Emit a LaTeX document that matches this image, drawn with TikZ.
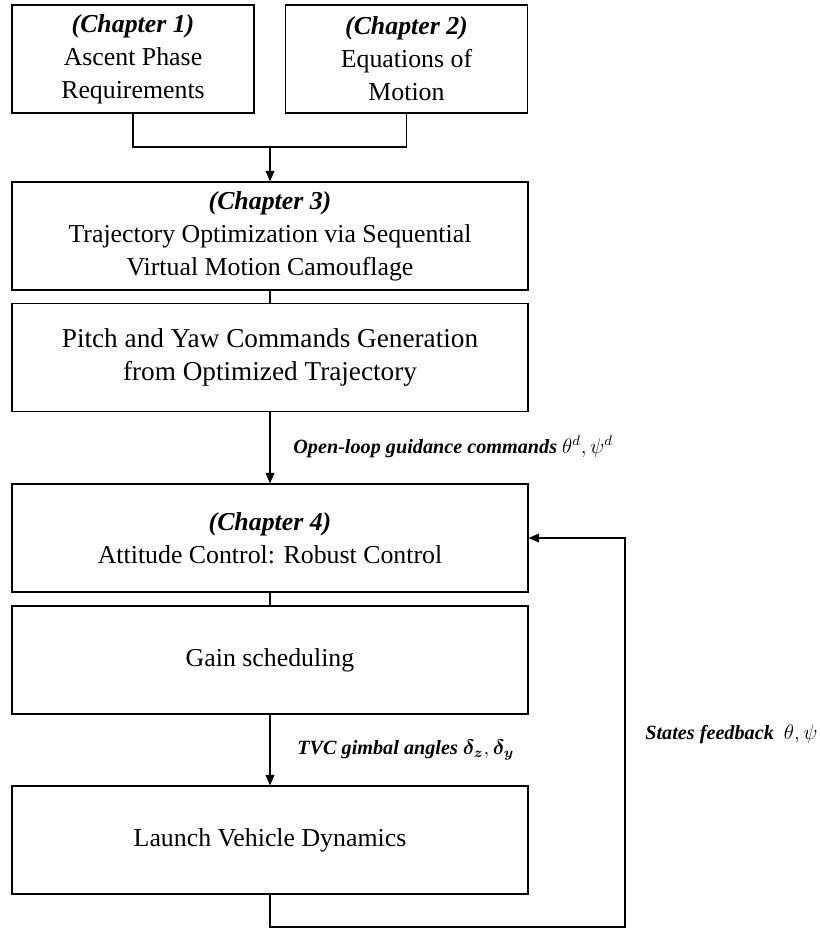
\documentclass[tikz,border=0pt]{standalone}
\usepackage{amsmath}
\usepackage{fontspec}
\setmainfont{Liberation Serif}
\usetikzlibrary{arrows.meta}

\begin{document}
\begin{tikzpicture}[x=0.02cm,y=-0.02cm,
	box/.style={draw, line width=0.7pt, minimum width=10.32cm, minimum height=2.16cm, inner sep=0pt, align=center, font=\fontsize{14.7}{18.8}\selectfont},
	topbox/.style={box, minimum width=4.84cm},
	lbl/.style={anchor=west, inner sep=0pt, font=\fontsize{11.5}{14}\selectfont\bfseries\itshape},
	line/.style={line width=0.7pt},
	arr/.style={line, -{Triangle[length=6pt,width=5pt]}}]

	\useasboundingbox (0,0) rectangle (819,928);

	\node[topbox] (ch1) at (133,59) {\textbf{\textit{(Chapter 1)}}\\Ascent Phase\\Requirements};
	\node[topbox] (ch2) at (406.5,59) {\textbf{\textit{(Chapter 2)}}\\Equations of\\Motion};
	\node[box] (ch3) at (270,236) {\textbf{\textit{(Chapter 3)}}\\Trajectory Optimization via Sequential\\Virtual Motion Camouflage};
	\node[box, font=\fontsize{15.5}{18.8}\selectfont] (cmd) at (270,357.5) {Pitch and Yaw Commands Generation\\from Optimized Trajectory};
	\node[box] (ch4) at (270,538) {\textbf{\textit{(Chapter 4)}}\\Attitude Control: Robust Control};
	\node[box] (gain) at (270,660) {Gain scheduling};
	\node[box] (veh) at (270,840) {Launch Vehicle Dynamics};

	\coordinate (join) at (270,147);
	\coordinate (fbturn) at (625,927);

	\draw[line] (ch1.south) |- (join) -| (ch2.south);
	\draw[arr] (join) -- (ch3.north);
	\draw[line] (ch3.south) -- (cmd.north);
	\draw[arr] (cmd.south) -- (ch4.north);
	\draw[line] (ch4.south) -- (gain.north);
	\draw[arr] (gain.south) -- (veh.north);
	\draw[arr] (veh.south) |- (fbturn) |- (ch4.east);

	\node[lbl] (guide) at (293,447) {Open-loop guidance commands $\theta^d,\psi^d$};
	\node[lbl] (tvc) at (297,750) {TVC gimbal angles $\boldsymbol{\delta_z},\boldsymbol{\delta_y}$};
	\node[lbl] (fb) at (645,734) {States feedback\ \ $\theta,\psi$};

\end{tikzpicture}
\end{document}
